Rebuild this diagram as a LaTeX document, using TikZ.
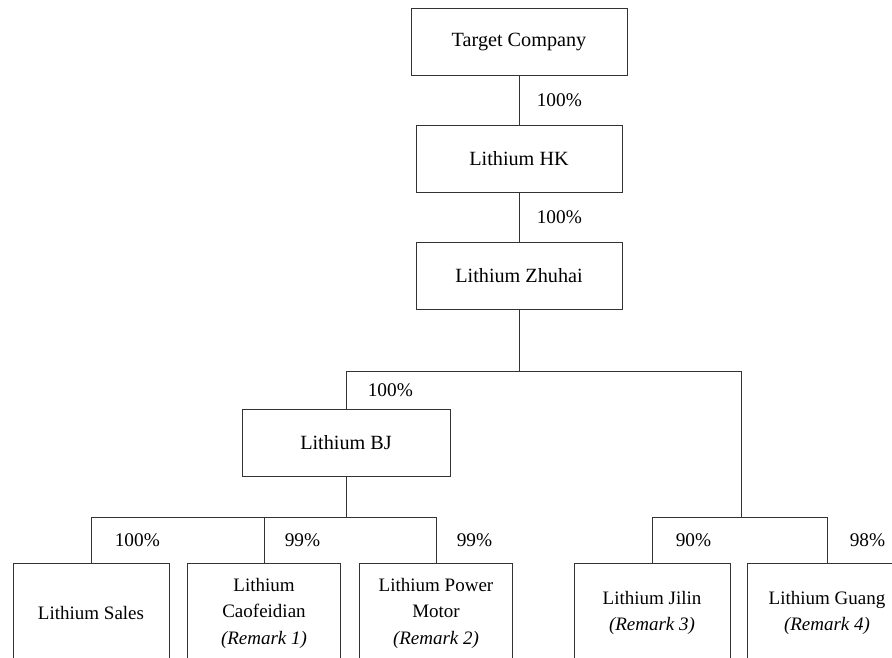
\documentclass[tikz,border=0pt]{standalone}
\usepackage{fontspec}
\setmainfont{Liberation Serif}
\usetikzlibrary{positioning}
\tikzstyle{entity} = [rectangle, minimum height=67pt, text centered, align=center, draw=black!80, line width=1pt, font=\fontsize{20.2}{26.5}\selectfont]
\tikzstyle{sub} = [entity, minimum width=156pt, minimum height=100pt, font=\fontsize{19}{26.5}\selectfont]
\tikzstyle{pct} = [anchor=west, xshift=14pt, font=\fontsize{19.3}{23}\selectfont]
\tikzstyle{link} = [draw=black!80, line width=1pt]

\begin{document}
\begin{tikzpicture}[x=1pt, y=-1pt]
\useasboundingbox (0,0) rectangle (892,657);
\clip (0,0) rectangle (892,657);

\node (tc) [entity, minimum width=216pt] at (519,41.5) {Target Company};
\node (hk) [entity, minimum width=206pt] at (519,158.5) {Lithium HK};
\node (zh) [entity, minimum width=206pt] at (519,275.5) {Lithium Zhuhai};
\node (bj) [entity, minimum width=208pt] at (346,442.5) {Lithium BJ};

\node (sales) [sub] at (91,613) {Lithium Sales};
\node (caof) [sub, minimum width=153pt] at (264,613) {Lithium\\Caofeidian\\\textit{(Remark 1)}};
\node (power) [sub, minimum width=153pt] at (436,613) {Lithium Power\\Motor\\\textit{(Remark 2)}};
\node (jilin) [sub] at (652,613) {Lithium Jilin\\\textit{(Remark 3)}};
\node (guang) [sub, minimum width=160pt] at (827,613) {Lithium Guang\\\textit{(Remark 4)}};

\coordinate (fork1) at (519,371);
\coordinate (fork2) at (741,517);
\coordinate (fork3) at (346,517);

\draw [link] (tc) -- node[pct] {100\%} (hk);
\draw [link] (hk) -- node[pct] {100\%} (zh);
\draw [link] (zh) -- (fork1);
\draw [link] (fork1) -| node[pct, pos=0.75, xshift=4pt] {100\%} (bj);
\draw [link] (fork1) -| (fork2);

\draw [link] (bj) -- (fork3);
\draw [link] (fork3) -| node[pct, pos=0.75, xshift=6pt] {100\%} (sales);
\draw [link] (fork3) -| node[pct, pos=0.75, xshift=3pt] {99\%} (caof);
\draw [link] (fork3) -| node[pct, pos=0.75, xshift=3pt] {99\%} (power);

\draw [link] (fork2) -| node[pct, pos=0.75, xshift=6pt] {90\%} (jilin);
\draw [link] (fork2) -| node[pct, pos=0.75, xshift=5pt] {98\%} (guang);

\end{tikzpicture}
\end{document}
